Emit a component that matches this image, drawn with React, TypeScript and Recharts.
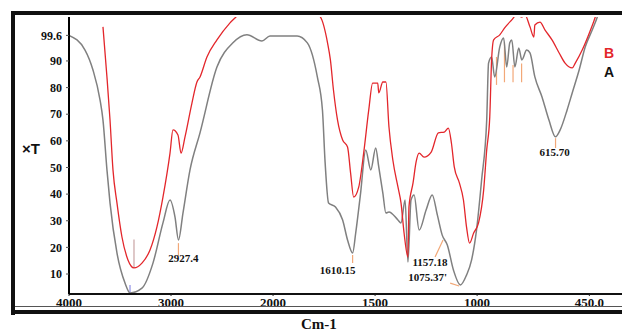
import React from 'react';
import { LineChart, Line, XAxis, YAxis, ReferenceLine, ReferenceDot } from 'recharts';

// sample A (grey): wavenumber (cm-1) and %T
const waveA = [4000, 3843, 3765, 3696, 3667, 3628, 3598, 3530, 3451, 3402, 3285, 3177, 3079, 3010, 2961, 2927, 2883, 2814, 2716, 2550, 2393, 2256, 2109, 2030, 1882, 1832, 1783, 1758, 1745, 1728, 1694, 1659, 1635, 1610, 1595, 1571, 1546, 1521, 1497, 1482, 1462, 1447, 1432, 1388, 1373, 1353, 1339, 1324, 1309, 1284, 1250, 1220, 1195, 1171, 1146, 1116, 1082, 1052, 1027, 1003, 978, 953, 944, 929, 914, 889, 870, 855, 840, 830, 815, 796, 781, 757, 741, 717, 682, 648, 616, 593, 559, 534, 500, 470, 436, 411, 390];
const transA = [99.6, 94.1, 86.6, 75.4, 67.8, 49.1, 36.7, 17.9, 6.6, 2.9, 4.7, 14.1, 29.2, 37.8, 31.4, 22.8, 32.9, 49.1, 63.0, 87.7, 96.8, 99.8, 97.5, 99.4, 99.4, 96.8, 84.0, 71.6, 52.0, 36.7, 35.2, 30.3, 22.8, 17.9, 25.4, 40.4, 56.6, 49.1, 57.3, 50.2, 40.4, 32.9, 33.3, 30.3, 29.2, 37.8, 14.5, 37.8, 39.7, 26.5, 34.0, 39.7, 32.2, 24.6, 20.9, 11.5, 5.9, 9.6, 15.3, 26.5, 45.3, 67.8, 89.2, 91.5, 84.0, 95.3, 98.6, 87.7, 96.8, 97.9, 87.7, 94.9, 90.4, 94.1, 93.0, 84.0, 76.5, 67.8, 61.5, 64.1, 71.6, 78.0, 86.6, 95.3, 101.6, 106.5, 112];

// sample B (red)
const waveB = [3667, 3628, 3598, 3569, 3530, 3481, 3422, 3363, 3285, 3206, 3138, 3079, 3010, 2981, 2932, 2902, 2863, 2795, 2746, 2716, 2648, 2550, 2422, 2344, 2250, 2100, 1950, 1830, 1768, 1733, 1719, 1704, 1684, 1659, 1635, 1620, 1605, 1580, 1556, 1531, 1512, 1487, 1482, 1462, 1447, 1432, 1413, 1388, 1373, 1358, 1339, 1334, 1314, 1299, 1284, 1260, 1225, 1190, 1161, 1141, 1126, 1112, 1087, 1067, 1052, 1037, 1017, 993, 968, 953, 938, 929, 919, 889, 865, 830, 806, 781, 766, 741, 722, 717, 692, 667, 633, 598, 569, 534, 519, 485, 450, 421, 400];
const transB = [102.8, 84.0, 67.8, 49.1, 36.7, 23.9, 15.3, 12.3, 14.1, 19.0, 27.7, 38.9, 55.4, 64.1, 62.2, 55.4, 61.5, 74.2, 82.1, 84.0, 91.5, 97.9, 104.3, 107.3, 112, 115, 114, 110, 106.5, 96.8, 90.4, 79.1, 67.8, 60.3, 57.7, 47.9, 38.9, 42.7, 55.4, 71.6, 81.7, 81.7, 78.0, 82.1, 82.1, 65.2, 52.8, 42.7, 36.7, 25.4, 16.4, 35.2, 44.2, 52.1, 55.4, 53.9, 55.8, 63.0, 63.3, 64.8, 59.2, 50.2, 44.2, 37.8, 27.7, 21.6, 25.4, 29.2, 41.5, 56.6, 69.0, 90.4, 97.9, 99.8, 102.4, 105.4, 107.3, 106.5, 107.3, 102.8, 99.0, 103.5, 104.6, 101.6, 97.9, 93.0, 89.2, 87.4, 89.2, 94.1, 100.5, 106.5, 112];

const tickWave = [4000, 3000, 2000, 1500, 1000, 450];
const tickText = ['4000', '3000', '2000', '1500', '1000', '450.0'];
const yTicks = [10, 20, 30, 40, 50, 60, 70, 80, 90, 99.6];

// peak labels
const peakWave = [2927.4, 1610.15, 1157.18, 1075.37, 615.7];
const peakT = [22.8, 17.9, 21.5, 6.0, 61.5];
const peakText = ['2927.4', '1610.15', '1157.18', '1075.37\'', '615.70'];
const peakDx = [5, -15, -15, -34, -1];
const peakDy = [22, 21, 23, -4, 19];

// little marker strokes on the peaks
const markWave = [2927.4, 1610.15, 615.7, 905, 866, 824, 782, 3363, 3402];
const markTop = [21.6, 17.1, 61, 91.5, 97, 88.5, 89, 23, 5.9];
const markBottom = [16.8, 14.1, 57.3, 81, 82, 82, 82, 12.3, 2.5];
const markColor = ['#f2a878', '#f2a878', '#f2a878', '#f2a878', '#f2a878', '#f2a878', '#f2a878', '#c9a3a3', '#8e8ee6'];

// IR axis: 1000 cm-1 per unit above 2000, 500 cm-1 per unit below
const toAxis = (w: number) => (w >= 2000 ? (4000 - w) / 1000 : 2 + (2000 - w) / 500);

const dataA = waveA.map((w, i) => ({ x: toAxis(w), t: transA[i] }));
const dataB = waveB.map((w, i) => ({ x: toAxis(w), t: transB[i] }));

const serif = '"Liberation Serif", "Times New Roman", serif';
const sans = '"Liberation Sans", Arial, sans-serif';

const App = () => {
  return (
    <div style={{ position: 'absolute', left: 0, top: 0, width: 622, height: 336, background: '#fff', overflow: 'hidden' }}>
      <LineChart width={622} height={336} margin={{ top: 17, right: 0, bottom: 22, left: 29 }}>
        <XAxis
          type="number"
          dataKey="x"
          domain={[0, 5.42]}
          allowDataOverflow
          ticks={tickWave.map(toAxis)}
          interval={0}
          tickFormatter={(v: number, i: number) => tickText[i]}
          height={20}
          tickSize={2}
          tickMargin={2}
          axisLine={{ stroke: '#111', strokeWidth: 1.8 }}
          tickLine={{ stroke: '#222' }}
          tick={{ fill: '#111', fontSize: 13, fontWeight: 700, fontFamily: serif }}
        />
        <YAxis
          type="number"
          dataKey="t"
          domain={[2.5, 106.5]}
          allowDataOverflow
          ticks={yTicks}
          interval={0}
          width={40}
          tickSize={3}
          tickMargin={4}
          axisLine={{ stroke: '#000', strokeWidth: 2 }}
          tickLine={{ stroke: '#555' }}
          tick={{ fill: '#111', fontSize: 12, fontWeight: 700, fontFamily: serif }}
        />
        {markWave.map((w, i) => (
          <ReferenceLine
            key={`m-${i}`}
            segment={[{ x: toAxis(w), y: markTop[i] }, { x: toAxis(w), y: markBottom[i] }]}
            stroke={markColor[i]}
            strokeWidth={1.2}
          />
        ))}
        <ReferenceLine segment={[{ x: toAxis(1206), y: 16.4 }, { x: toAxis(1167), y: 22.8 }]} stroke="#f2a878" strokeWidth={1.2} />
        <ReferenceLine segment={[{ x: toAxis(1132), y: 6.6 }, { x: toAxis(1088), y: 5.5 }]} stroke="#f2a878" strokeWidth={1.2} />
        <Line data={dataA} dataKey="t" type="monotoneX" stroke="#808080" strokeWidth={1.5} dot={false} isAnimationActive={false} />
        <Line data={dataB} dataKey="t" type="monotoneX" stroke="#e3262b" strokeWidth={1.3} dot={false} isAnimationActive={false} />
        {peakWave.map((w, i) => (
          <ReferenceDot
            key={`p-${i}`}
            x={toAxis(w)}
            y={peakT[i]}
            r={0}
            ifOverflow="visible"
            shape={(p: any) => (
              <text
                x={p.cx + peakDx[i]}
                y={p.cy + peakDy[i]}
                textAnchor="middle"
                fontSize={11}
                fontWeight={700}
                fontFamily={serif}
                fill="#111"
              >
                {peakText[i]}
              </text>
            )}
          />
        ))}
      </LineChart>
      {/* frame */}
      <div style={{ position: 'absolute', left: 11, top: 11, width: 611, height: 4, background: '#111' }} />
      <div style={{ position: 'absolute', left: 11, top: 11, width: 4, height: 304, background: '#111' }} />
      <div style={{ position: 'absolute', left: 15, top: 306, width: 607, height: 1, background: '#555' }} />
      <div style={{ position: 'absolute', left: 11, top: 310, width: 611, height: 4, background: '#111' }} />
      <div style={{ position: 'absolute', left: 22, top: 140, fontFamily: sans, fontWeight: 700, fontSize: 15, color: '#111' }}>×T</div>
      <div style={{ position: 'absolute', left: 604, top: 45, fontFamily: sans, fontWeight: 700, fontSize: 14, color: '#e3262b' }}>B</div>
      <div style={{ position: 'absolute', left: 604, top: 64, fontFamily: sans, fontWeight: 700, fontSize: 14, color: '#111' }}>A</div>
      <div style={{ position: 'absolute', left: 301, top: 316, fontFamily: serif, fontWeight: 700, fontSize: 15, color: '#111' }}>Cm-1</div>
    </div>
  );
};

export default App;
